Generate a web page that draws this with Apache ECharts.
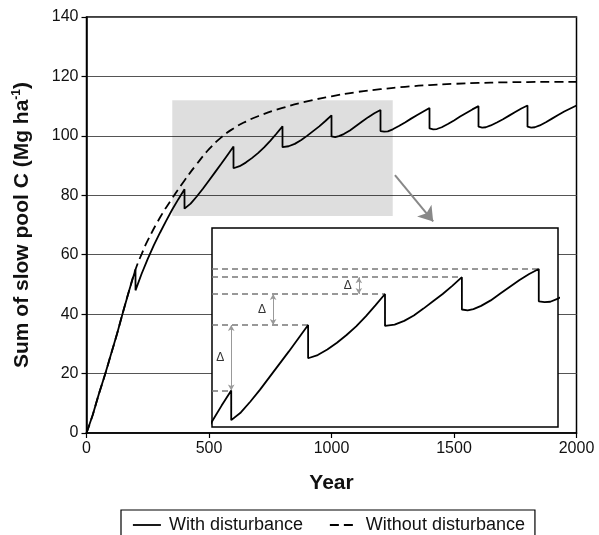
<!DOCTYPE html>
<html>
<head>
<meta charset="utf-8">
<script src="https://cdn.jsdelivr.net/npm/echarts@6/dist/echarts.min.js"></script>
<style>
html, body { margin: 0; padding: 0; background: #fff; }
#chart { width: 599px; height: 535px; }
</style>
</head>
<body>
<div id="chart"></div>
<script>
// with disturbance: each 200 yr a drop (same year appears twice: peak, then trough)
var withYears = [
  0, 25, 50, 75, 100, 125, 150, 175, 200,
  200, 225, 250, 275, 300, 325, 350, 375, 400,
  400, 425, 450, 475, 500, 525, 550, 575, 600,
  600, 625, 650, 675, 700, 725, 750, 775, 800,
  800, 825, 850, 875, 900, 925, 950, 975, 1000,
  1000, 1015, 1030, 1050, 1075, 1100, 1125, 1150, 1175, 1200,
  1200, 1215, 1230, 1250, 1275, 1300, 1325, 1350, 1375, 1400,
  1400, 1415, 1430, 1450, 1475, 1500, 1525, 1550, 1575, 1600,
  1600, 1615, 1630, 1650, 1675, 1700, 1725, 1750, 1775, 1800,
  1800, 1815, 1830, 1850, 1875, 1900, 1925, 1950, 1975, 2000
];
var withValues = [
  0, 6, 13, 19.5, 26.5, 33.5, 41, 48.2, 55,
  48, 53.6, 58.6, 63.2, 67.4, 71.4, 75.2, 78.7, 82,
  75.5, 77.2, 79.6, 82.2, 85, 87.8, 90.6, 93.5, 96.4,
  89.1, 89.8, 91, 92.5, 94.2, 96.1, 98.3, 100.7, 103.2,
  96.2, 96.5, 97.3, 98.5, 100, 101.6, 103.2, 105, 106.9,
  99.8, 99.6, 99.9, 100.6, 101.8, 103.3, 104.8, 106.3, 107.6, 108.7,
  101.6, 101.4, 101.5, 102.2, 103.3, 104.5, 105.8, 107, 108.2, 109.4,
  102.5, 102.2, 102.3, 102.9, 104, 105.2, 106.5, 107.7, 108.9, 110,
  103.1, 102.8, 102.9, 103.5, 104.5, 105.6, 106.8, 108, 109.2, 110.2,
  103.1, 102.8, 102.9, 103.5, 104.6, 105.8, 107, 108.2, 109.2, 110.2
];
var withoutYears = [0, 25, 50, 75, 100, 125, 150, 175, 200, 225, 250, 300, 350, 400, 450, 500,
  550, 600, 650, 700, 800, 900, 1000, 1100, 1200, 1300, 1400, 1500, 1600, 1700, 1800, 1900, 2000];
var withoutValues = [0, 6, 13, 19.5, 26.5, 33.5, 41, 48.2, 55, 60.2, 64.8, 72.5, 79, 85, 90.5, 95.5,
  99.5, 102.5, 104.8, 106.6, 109.4, 111.6, 113.3, 114.7, 115.7, 116.5, 117.1, 117.5, 117.8, 118, 118.1, 118.2, 118.2];

// zoomed window (gray box) and the peaks marked in the inset
var zoomX = [350, 1250];
var zoomY = [73, 112];
var peakYears = [400, 600, 800, 1000, 1200];
var deltaYears = [400, 509, 732];

var withData = withYears.map(function (x, i) { return [x, withValues[i]]; });
var withoutData = withoutYears.map(function (x, i) { return [x, withoutValues[i]]; });

function peakValue(yr) { return withValues[withYears.indexOf(yr)]; }

var font = 'Liberation Sans, Arial, Helvetica, sans-serif';

// inset dashed levels + delta arrows
var insetLines = [];
peakYears.forEach(function (yr) {
  var v = peakValue(yr);
  insetLines.push([
    { coord: [zoomX[0], v], symbol: 'none', lineStyle: { type: [6, 4], color: '#777', width: 1.5 } },
    { coord: [yr, v], symbol: 'none' }
  ]);
});
deltaYears.forEach(function (x, i) {
  insetLines.push([
    { coord: [x, peakValue(peakYears[i])], symbol: 'arrow', lineStyle: { type: 'solid', color: '#999', width: 1 } },
    { coord: [x, peakValue(peakYears[i + 1])], symbol: 'arrow' }
  ]);
});
var deltaLabels = deltaYears.map(function (x, i) {
  return {
    coord: [x, (peakValue(peakYears[i]) + peakValue(peakYears[i + 1])) / 2],
    symbol: 'circle', symbolSize: 0,
    label: { show: true, formatter: '\u0394', offset: [-11, 0], color: '#333', fontSize: 12, fontFamily: font }
  };
});

var chart = echarts.init(document.getElementById('chart'));
chart.setOption({
  animation: false,
  backgroundColor: '#fff',
  textStyle: { fontFamily: font },
  legend: {
    data: [
      { name: 'With disturbance', lineStyle: { type: 'solid', width: 1.8, color: '#000' } },
      { name: 'Without disturbance', lineStyle: { type: [9, 5], width: 1.8, color: '#000' } }
    ],
    left: 121, top: 510,
    padding: [6, 10, 12, 11],
    itemWidth: 28, itemHeight: 14, itemGap: 26,
    itemStyle: { opacity: 0 },
    borderColor: '#000', borderWidth: 1.2,
    textStyle: { fontSize: 18, color: '#111', fontFamily: font, padding: [0, 0, 0, 3] }
  },
  grid: [
    { left: 86.5, top: 17, right: 22.5, bottom: 102, show: true, borderColor: '#000', borderWidth: 1.5 },
    { left: 212, top: 228, width: 346, height: 199, show: true, z: 3,
      backgroundColor: '#fff', borderColor: '#000', borderWidth: 1.5 }
  ],
  xAxis: [
    {
      type: 'value', min: 0, max: 2000, interval: 500,
      name: 'Year', nameLocation: 'middle', nameGap: 40,
      nameTextStyle: { fontSize: 21, fontWeight: 'bold', color: '#111', fontFamily: font },
      axisLine: { lineStyle: { color: '#000', width: 1.5 } },
      axisTick: { length: 5, lineStyle: { color: '#000', width: 1.2 } },
      axisLabel: { fontSize: 16, color: '#111', margin: 8, fontFamily: font,
        formatter: function (v) { return String(v); } },
      splitLine: { show: false }
    },
    { type: 'value', gridIndex: 1, min: zoomX[0], max: zoomX[1], show: false }
  ],
  yAxis: [
    {
      type: 'value', min: 0, max: 140, interval: 20,
      name: '{a|Sum of slow pool C (Mg ha}{s|-1}{a|)}',
      nameLocation: 'middle', nameGap: 52,
      nameTextStyle: {
        rich: {
          a: { fontSize: 21, fontWeight: 'bold', color: '#111', fontFamily: font, lineHeight: 24 },
          s: { fontSize: 12, fontWeight: 'bold', color: '#111', fontFamily: font, verticalAlign: 'top', lineHeight: 24 }
        }
      },
      axisLine: { show: true, lineStyle: { color: '#000', width: 1.5 } },
      axisTick: { show: true, length: 5, lineStyle: { color: '#000', width: 1.2 } },
      axisLabel: { fontSize: 16, color: '#111', margin: 8, fontFamily: font },
      splitLine: { show: true, lineStyle: { color: '#555', width: 1 } }
    },
    { type: 'value', gridIndex: 1, min: 74, max: 117.7, show: false }
  ],
  series: [
    {
      name: 'With disturbance', type: 'line', data: withData,
      symbol: 'none', color: '#000',
      lineStyle: { color: '#000', width: 1.8 },
      markArea: {
        silent: true,
        itemStyle: { color: 'rgba(0,0,0,0.13)' },
        data: [[{ coord: [zoomX[0], zoomY[0]] }, { coord: [zoomX[1], zoomY[1]] }]]
      },
      markLine: {
        silent: true, symbol: ['none', 'arrow'], symbolSize: 14,
        label: { show: false },
        lineStyle: { type: 'solid', color: '#888', width: 2 },
        data: [[{ coord: [1259, 86.8] }, { coord: [1415, 71.2] }]]
      }
    },
    {
      name: 'Without disturbance', type: 'line', data: withoutData,
      symbol: 'none', smooth: true, color: '#000',
      lineStyle: { color: '#000', width: 1.8, type: [9, 5] }
    },
    {
      name: 'inset', type: 'line', xAxisIndex: 1, yAxisIndex: 1, z: 5,
      data: withData, symbol: 'none', clip: true,
      lineStyle: { color: '#000', width: 1.8 },
      markLine: {
        silent: true, symbolSize: [5, 6],
        label: { show: false },
        data: insetLines
      },
      markPoint: { silent: true, data: deltaLabels }
    }
  ]
});
</script>
</body>
</html>
